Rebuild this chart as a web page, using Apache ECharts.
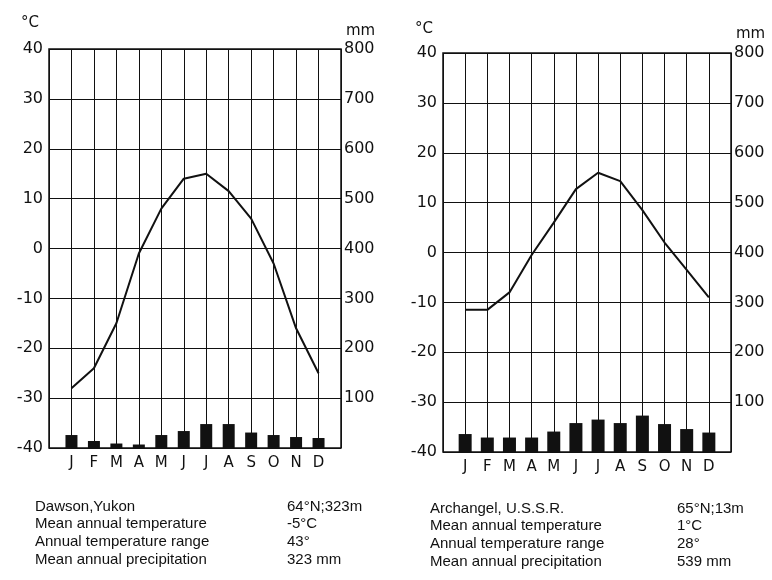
<!DOCTYPE html>
<html>
<head>
<meta charset="utf-8">
<script src="https://cdn.jsdelivr.net/npm/echarts@6/dist/echarts.min.js"></script>
<style>
  html, body { margin: 0; padding: 0; background: #fff; }
  #chart { width: 772px; height: 580px; }
</style>
</head>
<body>
<div id="chart"></div>
<script>
// month letters along the bottom
var months = ['J', 'F', 'M', 'A', 'M', 'J', 'J', 'A', 'S', 'O', 'N', 'D'];

// Dawson, Yukon
var dawsonTemp = [-28, -24, -15, -1, 8, 14, 15, 11.5, 6, -3, -16, -25];
var dawsonPrecip = [26, 14, 9, 7, 26, 34, 48, 48, 31, 26, 22, 20];

// Archangel, U.S.S.R.
var archTemp = [-11.5, -11.5, -8, -0.5, 6, 12.7, 16, 14.3, 8.5, 2, -3.5, -9];
var archPrecip = [36, 29, 29, 29, 41, 58, 65, 58, 73, 56, 46, 39];

// station notes below the charts
var dawsonNotes = [
    ['Dawson,Yukon', '64°N;323m'],
    ['Mean annual temperature', '-5°C'],
    ['Annual temperature range', '43°'],
    ['Mean annual precipitation', '323 mm']
];
var archNotes = [
    ['Archangel, U.S.S.R.', '65°N;13m'],
    ['Mean annual temperature', '1°C'],
    ['Annual temperature range', '28°'],
    ['Mean annual precipitation', '539 mm']
];

var chart = echarts.init(document.getElementById('chart'));

var FONT = 'DejaVu Sans';
var black = '#111';

function pairs(arr) {
    return arr.map(function (v, i) { return [i + 1, v]; });
}

function xAxisFor(idx) {
    return {
        type: 'value', gridIndex: idx, min: 0, max: 13, interval: 1,
        axisLine: { show: false },
        axisTick: { show: false },
        splitLine: { show: true, lineStyle: { color: black, width: 1 } },
        axisLabel: {
            color: black, fontFamily: FONT, fontSize: 15, margin: 8,
            formatter: function (v) { return months[v - 1] || ''; }
        }
    };
}

function tempAxis(idx, gap) {
    return {
        type: 'value', gridIndex: idx, position: 'left', min: -40, max: 40, interval: 10,
        name: '°C', nameLocation: 'end', nameGap: gap,
        nameTextStyle: { color: black, fontFamily: FONT, fontSize: 15, align: 'right', padding: [0, 10, 0, 0] },
        axisLine: { show: false },
        axisTick: { show: false },
        splitLine: { show: true, lineStyle: { color: black, width: 1 } },
        axisLabel: { color: black, fontFamily: FONT, fontSize: 16, margin: 6 }
    };
}

function mmAxis(idx, gap) {
    return {
        type: 'value', gridIndex: idx, position: 'right', min: 0, max: 800, interval: 100,
        name: 'mm', nameLocation: 'end', nameGap: gap,
        nameTextStyle: { color: black, fontFamily: FONT, fontSize: 15, align: 'left', padding: [0, 0, 0, 5] },
        axisLine: { show: false },
        axisTick: { show: false },
        splitLine: { show: false },
        axisLabel: {
            color: black, fontFamily: FONT, fontSize: 16, margin: 3,
            formatter: function (v) { return v === 0 ? '' : v; }
        }
    };
}

function notesGraphic(notes, x1, x2, y0) {
    var out = [];
    notes.forEach(function (row, i) {
        var y = y0 + i * 17.7;
        out.push({ type: 'text', left: x1, top: y, style: { text: row[0], fill: black, font: '15px "Liberation Sans"' } });
        out.push({ type: 'text', left: x2, top: y, style: { text: row[1], fill: black, font: '15px "Liberation Sans"' } });
    });
    return out;
}

var option = {
    backgroundColor: '#fff',
    animation: false,
    grid: [
        { left: 49, top: 49, width: 292, height: 399, show: true, borderColor: black, borderWidth: 1.5, backgroundColor: 'transparent' },
        { left: 443, top: 53, width: 288, height: 399, show: true, borderColor: black, borderWidth: 1.5, backgroundColor: 'transparent' }
    ],
    xAxis: [xAxisFor(0), xAxisFor(1)],
    yAxis: [tempAxis(0, 18), mmAxis(0, 10), tempAxis(1, 16), mmAxis(1, 11)],
    series: [
        {
            name: 'Dawson precipitation', type: 'bar', xAxisIndex: 0, yAxisIndex: 1,
            barWidth: 12, itemStyle: { color: black }, data: pairs(dawsonPrecip)
        },
        {
            name: 'Dawson temperature', type: 'line', xAxisIndex: 0, yAxisIndex: 0,
            symbol: 'none', lineStyle: { color: black, width: 2 }, data: pairs(dawsonTemp)
        },
        {
            name: 'Archangel precipitation', type: 'bar', xAxisIndex: 1, yAxisIndex: 3,
            barWidth: 13, itemStyle: { color: black }, data: pairs(archPrecip)
        },
        {
            name: 'Archangel temperature', type: 'line', xAxisIndex: 1, yAxisIndex: 2,
            symbol: 'none', lineStyle: { color: black, width: 2 }, data: pairs(archTemp)
        }
    ],
    graphic: notesGraphic(dawsonNotes, 35, 287, 499).concat(notesGraphic(archNotes, 430, 677, 501))
};

chart.setOption(option);
</script>
</body>
</html>
